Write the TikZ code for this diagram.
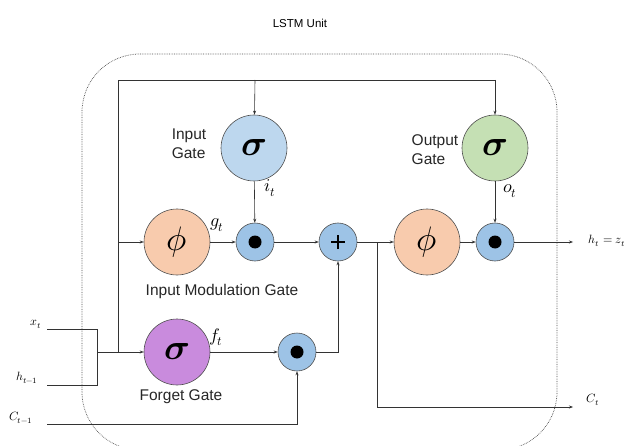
\documentclass[tikz,border=0pt]{standalone}
\usepackage{fontspec}
\usepackage{unicode-math}
\setmainfont{Liberation Sans}
\setmathfont{Latin Modern Math}
\usetikzlibrary{arrows.meta}
\definecolor{igblue}{HTML}{BDD7EE}
\definecolor{opgreen}{HTML}{C5E0B4}
\definecolor{phiorange}{HTML}{F8CBAD}
\definecolor{fgpurple}{HTML}{C98BDD}
\definecolor{opblue}{HTML}{9DC3E6}
\definecolor{edgegray}{HTML}{505050}
\tikzset{
  gate/.style={circle, draw=edgegray, line width=0.6pt, minimum size=66pt, inner sep=0pt},
  sig/.style={font=\fontsize{36}{36}\selectfont},
  ph/.style={font=\fontsize{34}{34}\selectfont},
  opnode/.style={circle, draw=edgegray, line width=0.6pt, fill=opblue, minimum size=38pt, inner sep=0pt},
  wire/.style={draw=black!80, line width=0.6pt},
  arr/.style={wire, -{Stealth[length=4pt,width=3pt]}},
  lbl/.style={font=\fontsize{15.5}{19}\selectfont, text=black!85},
  mlbl/.style={font=\fontsize{18}{18}\selectfont},
  slbl/.style={font=\fontsize{12}{12}\selectfont},
  border/.style={draw=black!70, densely dotted, line width=0.7pt},
}
\begin{document}
\begin{tikzpicture}[x=1pt,y=-1pt]
\useasboundingbox (0,0) rectangle (628,446);
\begin{scope}
\clip (0,0) rectangle (628,446);
\draw[border, rounded corners=58pt] (82,54) rectangle (557,450);
\end{scope}
\node[font=\fontsize{11.5}{12}\selectfont] (title) at (300,23) {LSTM Unit};

% gates
\node[gate, sig, fill=igblue] (ig) at (254,148) {$\symbfit{\sigma}$};
\node[gate, sig, fill=opgreen] (og) at (495,148) {$\symbfit{\sigma}$};
\node[gate, ph, fill=phiorange] (phi1) at (177,242) {$\phi$};
\node[gate, ph, fill=phiorange] (phi2) at (427,242) {$\phi$};
\node[gate, sig, fill=fgpurple] (fg) at (177,352) {$\symbfit{\sigma}$};
\node[opnode] (m1) at (255,242) {};
\node[opnode] (pl) at (338,242) {};
\node[opnode] (m2) at (495,242) {};
\node[opnode] (m3) at (297,352) {};
\fill[black] (m1.center) circle (6.5pt);
\fill[black] (m2.center) circle (6.5pt);
\fill[black] (m3.center) circle (6.5pt);
\draw[black, line width=1.6pt] ([xshift=-7pt]pl.center) -- ([xshift=7pt]pl.center)
  ([yshift=-7pt]pl.center) -- ([yshift=7pt]pl.center);

% text labels
\node[lbl, align=left] (igl) at (189,144) {Input\\Gate};
\node[lbl, align=left] (ogl) at (435,150) {Output\\Gate};
\node[lbl] (iml) at (222,291) {Input Modulation Gate};
\node[lbl] (fgl) at (181,397) {Forget Gate};
\node[mlbl] (it) at (270,188) {$i_t$};
\node[mlbl] (gt) at (217,225) {$g_t$};
\node[mlbl] (ft) at (216,337) {$f_t$};
\node[mlbl] (ot) at (510,191) {$o_t$};
\node[slbl] (xt) at (36,324) {$x_t$};
\node[slbl] (ht1) at (27,378) {$h_{t-1}$};
\node[slbl] (ct1) at (21,418) {$C_{t-1}$};
\node[slbl] (hz) at (607,241) {$h_t = z_t$};
\node[slbl] (ct) at (593,400) {$C_t$};

% coordinates
\coordinate (xs) at (47,329);
\coordinate (xc) at (97,329);
\coordinate (hs) at (47,385);
\coordinate (hc) at (97,385);
\coordinate (jn) at (97,352);
\coordinate (lt) at (118,80);
\coordinate (lb) at (118,352);
\coordinate (lm) at (118,242);
\coordinate (ti) at (255,80);
\coordinate (to) at (495,80);
\coordinate (cs) at (47,424);
\coordinate (cc) at (297,424);
\coordinate (m3r) at (338,352);
\coordinate (cj) at (377,242);
\coordinate (cb) at (377,407);
\coordinate (cend) at (573,407);
\coordinate (hend) at (573,242);

% wires
\draw[wire] (xs) -- (xc) -- (hc) -- (hs);
\draw[arr] (jn) -- (fg);
\draw[wire] (lb) -- (lt) -- (to);
\draw[arr] (lm) -- (phi1);
\draw[arr] (ti) -- (ig);
\draw[arr] (to) -- (og);
\draw[arr] (ig) -- (m1);
\draw[arr] (phi1) -- (m1);
\draw[arr] (m1) -- (pl);
\draw[arr] (pl) -- (phi2);
\draw[arr] (phi2) -- (m2);
\draw[arr] (og) -- (m2);
\draw[arr] (m2) -- (hend);
\draw[arr] (fg) -- (m3);
\draw[arr] (cs) -- (cc) -- (m3);
\draw[arr] (m3) -- (m3r) -- (pl);
\draw[arr] (cj) -- (cb) -- (cend);
\end{tikzpicture}
\end{document}
